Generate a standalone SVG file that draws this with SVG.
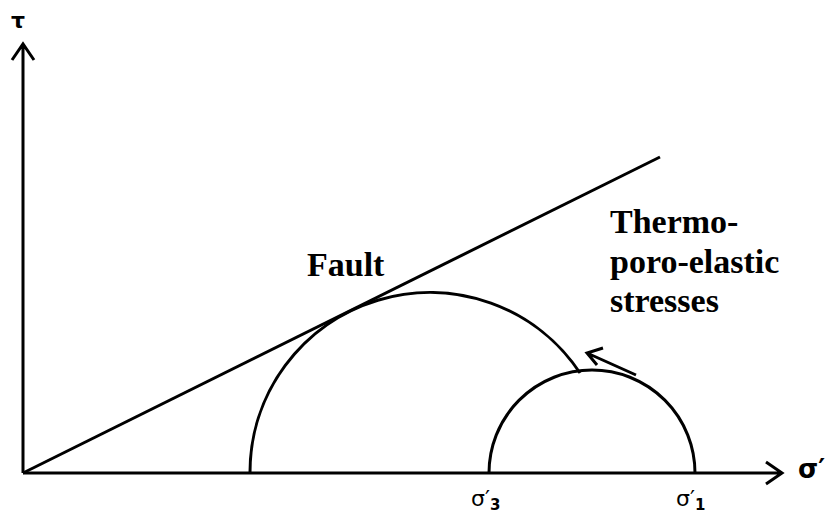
<svg xmlns="http://www.w3.org/2000/svg" width="831" height="516" viewBox="0 0 831 516">
<style>
.ln{fill:none;stroke:#000;stroke-width:3}
.bt{font-family:"Liberation Serif",serif;font-weight:bold;font-size:34px;fill:#000}
.sg{font-family:"DejaVu Sans",sans-serif;font-size:22px;fill:#000}
</style>
<rect width="831" height="516" fill="#fff"/>
<g id="connectors">
<path class="ln" d="M23,473 V44 M12,60 L23,44 L34,60"/>
<path class="ln" d="M23,473 H782 M766,462 L782,473 L766,484"/>
<path class="ln" d="M23,473 L660,157"/>
<path class="ln" d="M636,375 L587,353 M603,348 L587,353 L597,365"/>
</g>
<g id="mohr-large"><path class="ln" d="M250,473 A180,180 0 0 1 580,373"/></g>
<g id="mohr-small"><path class="ln" d="M489,473 A103,103 0 0 1 695,473"/></g>
<g id="labels">
<text x="11" y="28" style="font-family:'DejaVu Sans',sans-serif;font-weight:bold;font-size:22px">τ</text>
<text x="798" y="478" style="font-family:'DejaVu Sans',sans-serif;font-weight:bold;font-size:26px">σ′</text>
<text class="bt" x="307" y="276">Fault</text>
<text class="bt" x="610" y="233">Thermo-</text>
<text class="bt" x="610" y="273">poro-elastic</text>
<text class="bt" x="610" y="312">stresses</text>
<text class="sg" x="471" y="506">σ′<tspan font-size="15" font-weight="bold" dy="4">3</tspan></text>
<text class="sg" x="676" y="506">σ′<tspan font-size="15" font-weight="bold" dy="4">1</tspan></text>
</g>
</svg>
